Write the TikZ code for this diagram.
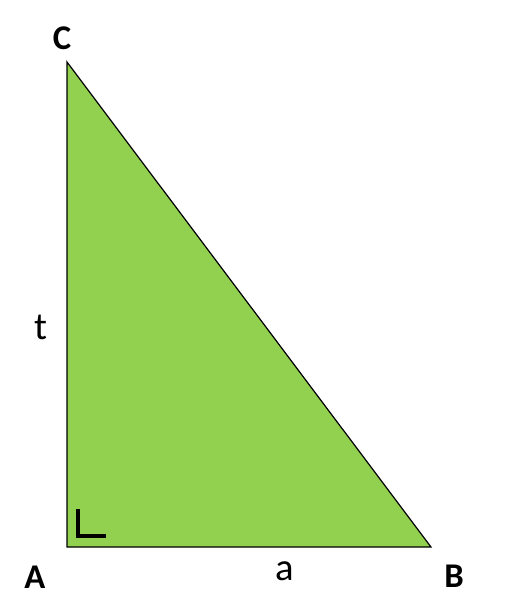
\documentclass[tikz,border=0pt]{standalone}
\usepackage{fontspec}
\setmainfont{Carlito}
\definecolor{trigreen}{HTML}{92D050}
\begin{document}
\begin{tikzpicture}[x=0.75pt,y=-0.75pt,
  vlabel/.style={font=\fontsize{26}{30}\selectfont\bfseries, inner sep=0pt},
  slabel/.style={font=\fontsize{29}{33}\selectfont, inner sep=0pt}]
\useasboundingbox[fill=white] (0,0) rectangle (507,604);
\coordinate (A) at (67,547);
\coordinate (B) at (431,547);
\coordinate (C) at (67,62);
\filldraw[fill=trigreen, draw=black, line width=0.9pt, line join=miter] (A) -- (B) -- (C) -- cycle;
\draw[line width=2.6pt] (78,509) -- (78,536) -- (106,536);
\node[vlabel] (lC) at (62,38) {C};
\node[vlabel] (lA) at (35,577) {A};
\node[vlabel] (lB) at (454,576) {B};
\node[slabel] (la) at (285,571) {a};
\node[slabel] (lt) at (41,327) {t};
\end{tikzpicture}
\end{document}
